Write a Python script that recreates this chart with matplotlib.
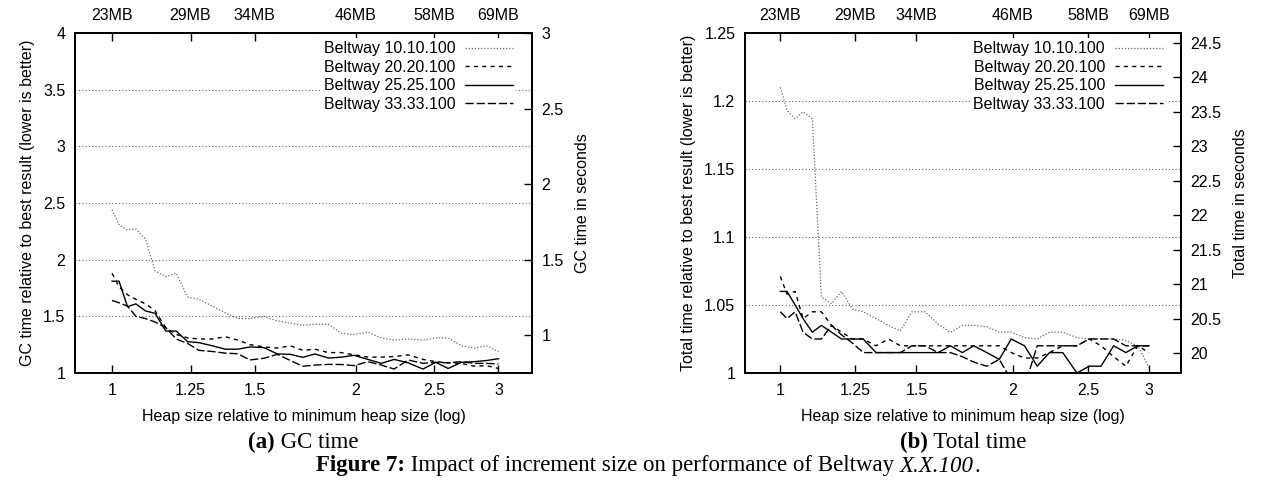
import matplotlib
matplotlib.use("Agg")
import matplotlib.pyplot as plt
from matplotlib.ticker import NullLocator, FixedLocator, FixedFormatter

plt.rcParams['font.family'] = ['Liberation Sans', 'DejaVu Sans']

# heap size relative to minimum heap size
x_rel = [1.00, 1.02, 1.045, 1.07, 1.10, 1.13, 1.165, 1.20, 1.24, 1.28, 1.33,
         1.38, 1.43, 1.48, 1.54, 1.60, 1.66, 1.72, 1.78, 1.85, 1.92, 1.99,
         2.07, 2.15, 2.23, 2.32, 2.42, 2.51, 2.60, 2.70, 2.80, 2.90, 3.00]

# (a) GC time relative to best result
gc_10 = [2.44, 2.31, 2.26, 2.27, 2.18, 1.90, 1.85, 1.88, 1.67, 1.65, 1.59,
         1.53, 1.48, 1.48, 1.50, 1.46, 1.44, 1.42, 1.43, 1.43, 1.35, 1.34,
         1.36, 1.31, 1.29, 1.30, 1.29, 1.31, 1.31, 1.24, 1.22, 1.24, 1.19]
gc_20 = [1.88, 1.76, 1.69, 1.65, 1.61, 1.55, 1.40, 1.34, 1.31, 1.30, 1.30,
         1.32, 1.29, 1.25, 1.23, 1.22, 1.24, 1.20, 1.21, 1.18, 1.18, 1.16,
         1.14, 1.14, 1.145, 1.16, 1.12, 1.10, 1.09, 1.085, 1.06, 1.065, 1.04]
gc_25 = [1.81, 1.81, 1.585, 1.61, 1.547, 1.527, 1.37, 1.37, 1.276, 1.268, 1.24,
         1.21, 1.21, 1.23, 1.224, 1.168, 1.165, 1.138, 1.168, 1.132, 1.14, 1.156,
         1.12, 1.085, 1.12, 1.09, 1.035, 1.094, 1.04, 1.094, 1.10, 1.11, 1.126]
gc_33 = [1.64, 1.62, 1.59, 1.50, 1.48, 1.45, 1.40, 1.30, 1.26, 1.20, 1.19,
         1.175, 1.17, 1.115, 1.13, 1.165, 1.11, 1.06, 1.07, 1.076, 1.075, 1.065,
         1.10, 1.07, 1.035, 1.115, 1.085, 1.094, 1.09, 1.10, 1.085, 1.085, 1.08]

# (b) Total time relative to best result
tot_10 = [1.210, 1.193, 1.187, 1.192, 1.187, 1.056, 1.051, 1.060, 1.047, 1.045, 1.040,
          1.035, 1.031, 1.045, 1.045, 1.036, 1.030, 1.035, 1.035, 1.034, 1.030, 1.030,
          1.026, 1.025, 1.030, 1.030, 1.026, 1.025, 1.025, 1.025, 1.024, 1.020, 1.004]
tot_20 = [1.071, 1.058, 1.060, 1.040, 1.045, 1.045, 1.035, 1.030, 1.025, 1.025, 1.020,
          1.025, 1.020, 1.020, 1.020, 1.020, 1.020, 1.020, 1.020, 1.020, 1.020, 1.015,
          1.011, 1.011, 1.015, 1.020, 1.020, 1.025, 1.020, 1.012, 1.005, 1.020, 1.015]
tot_25 = [1.060, 1.060, 1.050, 1.040, 1.030, 1.035, 1.030, 1.025, 1.025, 1.025, 1.015,
          1.015, 1.015, 1.015, 1.015, 1.015, 1.020, 1.015, 1.020, 1.015, 1.010, 1.025,
          1.020, 1.005, 1.015, 1.015, 1.000, 1.005, 1.005, 1.020, 1.015, 1.020, 1.020]
tot_33 = [1.045, 1.040, 1.045, 1.030, 1.025, 1.025, 1.035, 1.028, 1.022, 1.015, 1.015,
          1.015, 1.015, 1.020, 1.020, 1.015, 1.015, 1.012, 1.008, 1.005, 1.010, 0.995,
          0.990, 1.020, 1.020, 1.020, 1.020, 1.025, 1.025, 1.025, 1.020, 1.020, 1.020]

labels = ['Beltway 10.10.100', 'Beltway 20.20.100', 'Beltway 25.25.100', 'Beltway 33.33.100']
x_ticks = [1, 1.25, 1.5, 2, 2.5, 3]
x_ticklabels = ['1', '1.25', '1.5', '2', '2.5', '3']
mb_ticklabels = ['23MB', '29MB', '34MB', '46MB', '58MB', '69MB']

styles = [
    dict(color='#666666', linestyle=(0, (1, 1.5)), lw=0.9),
    dict(color='black', linestyle=(0, (3, 3)), lw=1.0),
    dict(color='black', linestyle='-', lw=1.0),
    dict(color='black', linestyle=(0, (6, 2)), lw=1.0),
]

FS = 11.5

fig = plt.figure(figsize=(12.63, 4.91), dpi=100)


def make_panel(rect, series, ylim, yticks, ylabels, y2lim, y2ticks, y2labels, ylabel, y2label):
    ax = fig.add_axes(rect)
    for ys, st, lab in zip(series, styles, labels):
        ax.plot(x_rel, ys, label=lab, **st)
    ax.set_xscale('log')
    ax.set_xlim(0.9, 3.3)
    ax.xaxis.set_major_locator(FixedLocator(x_ticks))
    ax.xaxis.set_major_formatter(FixedFormatter(x_ticklabels))
    ax.xaxis.set_minor_locator(NullLocator())
    ax.set_ylim(*ylim)
    ax.set_yticks(yticks)
    ax.set_yticklabels(ylabels)
    ax.yaxis.grid(True, linestyle=(0, (1, 2)), color='#666666', lw=0.8)
    ax.tick_params(direction='in', length=6, width=1, labelsize=FS, pad=7)
    ax.tick_params(axis='y', length=0)
    for sp in ax.spines.values():
        sp.set_linewidth(1.4)
    ax.set_xlabel('Heap size relative to minimum heap size (log)', fontsize=FS, labelpad=8)
    ax.set_ylabel(ylabel, fontsize=FS, labelpad=6)

    top = ax.secondary_xaxis('top')
    top.xaxis.set_major_locator(FixedLocator(x_ticks))
    top.xaxis.set_major_formatter(FixedFormatter(mb_ticklabels))
    top.xaxis.set_minor_locator(NullLocator())
    top.tick_params(direction='in', length=6, width=1, labelsize=FS, pad=7)
    top.spines['top'].set_linewidth(1.4)

    ay = ax.twinx()
    ay.set_ylim(*y2lim)
    ay.set_yticks(y2ticks)
    ay.set_yticklabels(y2labels)
    ay.tick_params(direction='in', length=6, width=1, labelsize=FS, pad=7)
    ay.set_ylabel(y2label, fontsize=FS, labelpad=8)
    for sp in ay.spines.values():
        sp.set_linewidth(1.4)

    leg = ax.legend(loc='upper right', bbox_to_anchor=(0.965, 0.985), fontsize=FS,
                    markerfirst=False, handlelength=3.0, handletextpad=0.6,
                    labelspacing=0.22, borderpad=0.2, borderaxespad=0,
                    frameon=True, fancybox=False)
    leg.get_frame().set_edgecolor('none')
    leg.get_frame().set_facecolor('white')
    leg.get_frame().set_alpha(1)
    return ax


make_panel([75 / 1263, 118 / 491, 457 / 1263, 340 / 491],
           [gc_10, gc_20, gc_25, gc_33],
           (1, 4), [1, 1.5, 2, 2.5, 3, 3.5, 4], ['1', '1.5', '2', '2.5', '3', '3.5', '4'],
           (0.75, 3.0), [1, 1.5, 2, 2.5, 3], ['1', '1.5', '2', '2.5', '3'],
           'GC time relative to best result (lower is better)', 'GC time in seconds')

make_panel([745 / 1263, 118 / 491, 436 / 1263, 340 / 491],
           [tot_10, tot_20, tot_25, tot_33],
           (1, 1.25), [1, 1.05, 1.1, 1.15, 1.2, 1.25], ['1', '1.05', '1.1', '1.15', '1.2', '1.25'],
           (19.71, 24.64), [20, 20.5, 21, 21.5, 22, 22.5, 23, 23.5, 24, 24.5],
           ['20', '20.5', '21', '21.5', '22', '22.5', '23', '23.5', '24', '24.5'],
           'Total time relative to best result (lower is better)', 'Total time in seconds')


# captions: pieces of serif text with mixed weight/style, centred as one line
def caption(xc, yc, pieces, size=16.5):
    renderer = fig.canvas.get_renderer()
    texts = []
    for s, weight, style in pieces:
        t = fig.text(0, 0, s, fontsize=size, family='Liberation Serif',
                     weight=weight, style=style, va='center', ha='left')
        texts.append(t)
    widths = [t.get_window_extent(renderer).width for t in texts]
    x = xc - sum(widths) / 2
    for t, w in zip(texts, widths):
        t.set_position((x / 1263, 1 - yc / 491))
        x += w


caption(303, 442, [('(a)', 'bold', 'normal'), (' GC time', 'normal', 'normal')])
caption(963, 442, [('(b)', 'bold', 'normal'), (' Total time', 'normal', 'normal')])
caption(648, 466, [('Figure 7:', 'bold', 'normal'),
                   (' Impact of increment size on performance of Beltway ', 'normal', 'normal'),
                   ('X.X.100', 'normal', 'italic'), ('.', 'normal', 'normal')])

fig.savefig('out.png', dpi=100)
